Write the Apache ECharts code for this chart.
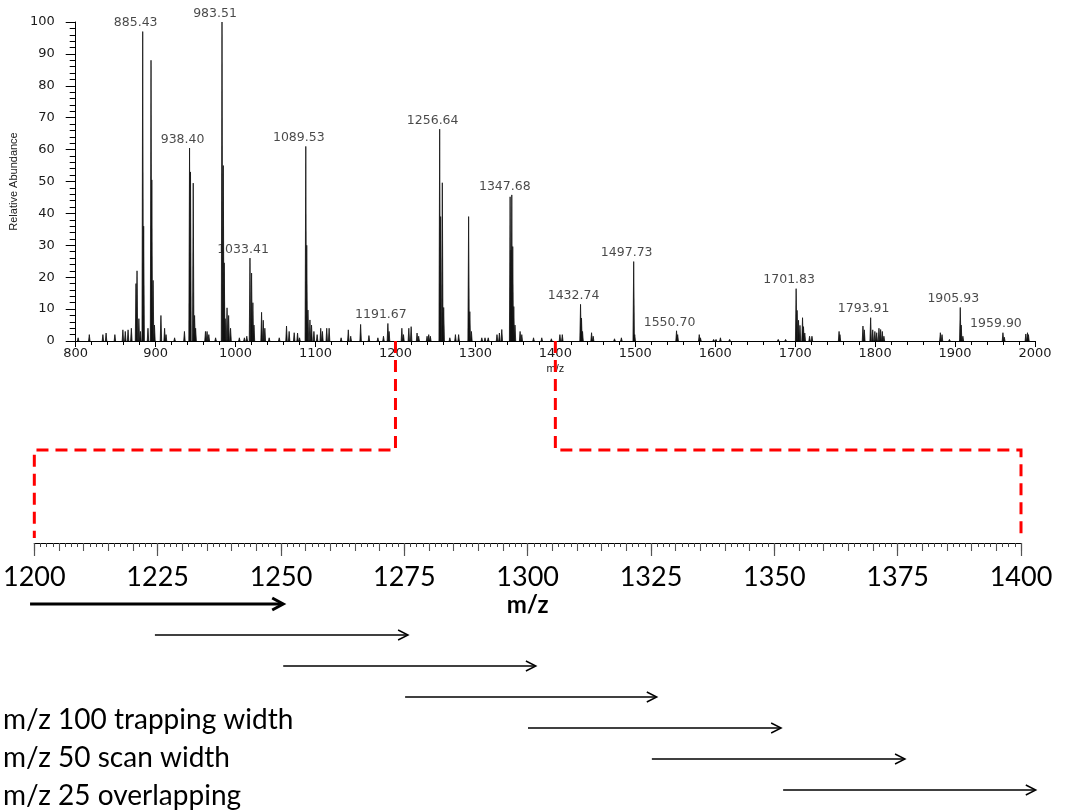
<!DOCTYPE html>
<html><head><meta charset="utf-8">
<script src="https://cdn.jsdelivr.net/npm/echarts@6/dist/echarts.min.js"></script>
<style>html,body{margin:0;padding:0;background:#fff}#c{width:1068px;height:812px}</style>
</head><body><div id="c"></div>
<script>
// ---- spectrum peaks (m/z, relative abundance) ----
const peakMz = [803,817,834,838,849,859,862,865.5,869.6,875.4,876.7,879,881,883.8,885,890.4,894.2,895.2,896.8,898.5,906.6,911.2,913,923.7,936,942.4,943.6,947,948.7,950,962.3,964.3,966.5,975,983,984.6,985.8,987,989.3,991.3,993.7,1004.7,1011,1014,1018,1020,1021.6,1023,1032.5,1034.6,1036.6,1042,1054.6,1063.7,1067,1073.3,1077.5,1080,1087.8,1089,1090.5,1093,1095,1098,1102,1106.5,1108.6,1114,1117,1132,1141,1144,1156.4,1166.8,1178,1185,1190.5,1192,1208,1210,1216.7,1219.6,1227,1229,1239.5,1241.6,1243.6,1255.3,1256.5,1258.6,1260.3,1268,1275,1279,1291.5,1293,1295,1308,1312,1316,1327,1330,1333,1343.4,1344.5,1345.5,1346.7,1348,1349.5,1355.9,1358,1372.7,1383,1395,1405.7,1408.7,1431.5,1432.7,1434,1445.3,1447.3,1474,1482.6,1498,1499.3,1551.6,1553,1580,1581.5,1598,1601,1606.5,1618,1678.8,1688,1701.2,1702.4,1704.2,1706,1709.2,1710.4,1712,1718,1721,1754.9,1756,1784.8,1786.5,1794.4,1797,1799.7,1802,1804.8,1806.9,1809,1811,1881.6,1883.7,1893,1906.5,1907.7,1909.8,1959.9,1961.6,1988.5,1990.6,1991.8];
const peakInt = [1,2,2,2.5,2,3.5,3,3.5,4,18,22,7,3,97,36,4,88,50.5,19,5,8,4,2,1,3,60.5,53,49.5,8,4,3,3,2,1,100,55,24.5,7,10.4,8,4,1,1,1.5,26,21.3,12,5,9,6.5,4,1,1,4.7,3,2.6,2.5,1,61,30,9.7,6.6,5,3,2,4,3,4,4,1,3.5,1.5,5.2,1.7,1,1.5,5.5,3,4,2,4,4.5,2.5,1.5,1.5,2,1.5,66.4,39,49.6,10.5,1,2,2,39,9.2,3,1,1,1,2,2.5,3.6,45.2,28.5,45.8,29.6,10.8,5,3,2,1,1,0.7,2,2,11.5,7.2,3,2.6,1.5,0.7,1,24.9,2,3.2,2,2,1,0.5,0.5,1,0.5,0.5,0.5,16.4,9.6,6.5,4.9,7.3,4.5,2.5,1.5,1.5,3,2,4.7,3.5,7.3,3.5,3,2.6,4,3.6,3,1.5,2.6,2,0.5,10.5,5,1.5,2.6,1.2,2.2,2.6,2];

// ---- annotated peaks ----
const labelMz   = [883.8, 942.4, 983, 1018, 1087.8, 1190.5, 1255.3, 1345.5, 1431.5, 1498, 1551.6, 1701.2, 1794.4, 1906.5, 1959.9];
const labelInt  = [97, 60.5, 100, 26, 61, 5.5, 66.4, 45.8, 11.5, 24.9, 3.2, 16.4, 7.3, 10.5, 2.6];
const labelText = ['885.43','938.40','983.51','1033.41','1089.53','1191.67','1256.64','1347.68','1432.74','1497.73','1550.70','1701.83','1793.91','1905.93','1959.90'];

// ---- zoomed ruler window and scan arrows (m/z) ----
const zoomMin = 1200, zoomMax = 1400;
const arrowStart = [1199.2, 1224.5, 1250.5, 1275.2, 1300.1, 1325.2, 1351.8];
const arrowEnd   = [1250.5, 1275.8, 1301.7, 1326.2, 1351.4, 1376.5, 1403.0];
const noteLines = ['m/z 100 trapping width', 'm/z 50 scan width', 'm/z 25 overlapping'];

const chart = echarts.init(document.getElementById('c'), null, {renderer: 'canvas'});
const HW = 0.9;          // half-width of a drawn peak, m/z units (style)
const topFont = 'DejaVu Sans';
const bigFont = 'Lato';
const plain = v => String(v);

const spectrumData = peakMz.map((m, i) => [m, peakInt[i]]);
const labelData = labelMz.map((m, i) => ({value: [m, labelInt[i]], name: labelText[i]}));
const arrowData = arrowStart.map((s, i) => [s, arrowEnd[i], i]);

const option = {
  animation: false,
  backgroundColor: '#fff',
  grid: [
    {left: 72, right: 33, top: 22, bottom: 471},
    {left: 34, right: 47, top: 500, bottom: 269},
    {left: 34, right: 47, top: 604, height: 186}
  ],
  xAxis: [
    {gridIndex: 0, type: 'value', min: 800, max: 2000, interval: 100,
     axisLine: {show: true, lineStyle: {color: '#000', width: 1}},
     axisTick: {show: true, length: 6, lineStyle: {color: '#000'}},
     minorTick: {show: true, splitNumber: 5, length: 4, lineStyle: {color: '#000'}},
     splitLine: {show: false},
     axisLabel: {margin: 6, fontFamily: topFont, fontSize: 13, color: '#1a1a1a', formatter: plain},
     name: 'm/z', nameLocation: 'middle', nameGap: 22,
     nameTextStyle: {fontFamily: 'Liberation Sans', fontSize: 11, color: '#1a1a1a'}},
    {gridIndex: 1, type: 'value', min: zoomMin, max: zoomMax, interval: 25, position: 'bottom',
     axisLine: {show: true, lineStyle: {color: '#000', width: 1.2}},
     axisTick: {show: true, length: 13, lineStyle: {color: '#555', width: 1.2}},
     minorTick: {show: true, splitNumber: 20, length: 4, lineStyle: {color: '#444'}},
     splitLine: {show: false},
     axisLabel: {margin: 21, fontFamily: bigFont, fontSize: 27, color: '#000', formatter: plain},
     name: 'm/z', nameLocation: 'middle', nameGap: 50,
     nameTextStyle: {fontFamily: bigFont, fontSize: 24, fontWeight: 'bold', color: '#000'}},
    {gridIndex: 1, type: 'value', min: zoomMin, max: zoomMax, interval: 5, position: 'bottom',
     axisLine: {show: false},
     axisTick: {show: true, length: 8, lineStyle: {color: '#555', width: 1.1}},
     axisLabel: {show: false}, splitLine: {show: false}},
    {gridIndex: 2, type: 'value', min: zoomMin, max: zoomMax, show: false}
  ],
  yAxis: [
    {gridIndex: 0, type: 'value', min: 0, max: 100, interval: 10,
     axisLine: {show: true, lineStyle: {color: '#000', width: 1}},
     axisTick: {show: true, length: 10, lineStyle: {color: '#000'}},
     minorTick: {show: true, splitNumber: 5, length: 6, lineStyle: {color: '#000'}},
     splitLine: {show: false},
     axisLabel: {margin: 21, fontFamily: topFont, fontSize: 13, color: '#1a1a1a', formatter: plain},
     name: 'Relative Abundance', nameLocation: 'middle', nameGap: 50, nameRotate: 90,
     nameTextStyle: {fontFamily: 'Liberation Sans', fontSize: 11, color: '#1a1a1a'}},
    {gridIndex: 1, type: 'value', min: 0, max: 1, show: false},
    {gridIndex: 2, type: 'value', min: 0, max: 6, inverse: true, show: false}
  ],
  series: [
    {type: 'custom', xAxisIndex: 0, yAxisIndex: 0, data: spectrumData, clip: true,
     renderItem: function (params, api) {
       const m = api.value(0), h = api.value(1);
       const a = api.coord([m - HW, 0]), b = api.coord([m, h]), c = api.coord([m + HW, 0]);
       return {type: 'polygon', shape: {points: [a, b, c]},
               style: {fill: '#111', stroke: '#111', lineWidth: 0.8}};
     }},
    {type: 'scatter', xAxisIndex: 0, yAxisIndex: 0, data: labelData, symbolSize: 0,
     label: {show: true, position: 'top', distance: 2, offset: [-7, 0],
             formatter: p => p.name, fontFamily: topFont, fontSize: 12.5, color: '#1a1a1a'}},
    {type: 'custom', xAxisIndex: 3, yAxisIndex: 2, data: arrowData, clip: false,
     renderItem: function (params, api) {
       const s = api.coord([api.value(0), api.value(2)]);
       const e = api.coord([api.value(1), api.value(2)]);
       const thick = params.dataIndex === 0;
       const lw = thick ? 3 : 1.4, L = thick ? 11 : 10, W = thick ? 6 : 5;
       return {type: 'group', children: [
         {type: 'line', shape: {x1: s[0], y1: s[1], x2: e[0] - 1, y2: e[1]},
          style: {stroke: '#000', lineWidth: lw}},
         {type: 'polyline', shape: {points: [[e[0] - L, e[1] - W], [e[0], e[1]], [e[0] - L, e[1] + W]]},
          style: {stroke: '#000', lineWidth: lw, fill: null}}
       ]};
     }}
  ]
};
chart.setOption(option);

// red dashed connectors from the full spectrum axis to the zoomed ruler
const midY = 450;
const tA = chart.convertToPixel({gridIndex: 0}, [zoomMin, 0]);
const tB = chart.convertToPixel({gridIndex: 0}, [zoomMax, 0]);
const bA = chart.convertToPixel({gridIndex: 1}, [zoomMin, 0]);
const bB = chart.convertToPixel({gridIndex: 1}, [zoomMax, 0]);
const dash = {stroke: '#ff0000', lineWidth: 3, lineDash: [12, 7], fill: null};
const graphics = [
  {type: 'polyline', z: 50, shape: {points: [[tA[0], tA[1]], [tA[0], midY], [bA[0], midY], [bA[0], bA[1] - 5]]}, style: dash},
  {type: 'polyline', z: 50, shape: {points: [[tB[0], tB[1]], [tB[0], midY], [bB[0], midY], [bB[0], bB[1] - 5]]}, style: dash}
];
noteLines.forEach((t, i) => {
  graphics.push({type: 'text', left: 3, top: 706 + i * 38,
    style: {text: t, fontFamily: bigFont, fontSize: 28, fill: '#000'}});
});
chart.setOption({graphic: graphics});
</script></body></html>
